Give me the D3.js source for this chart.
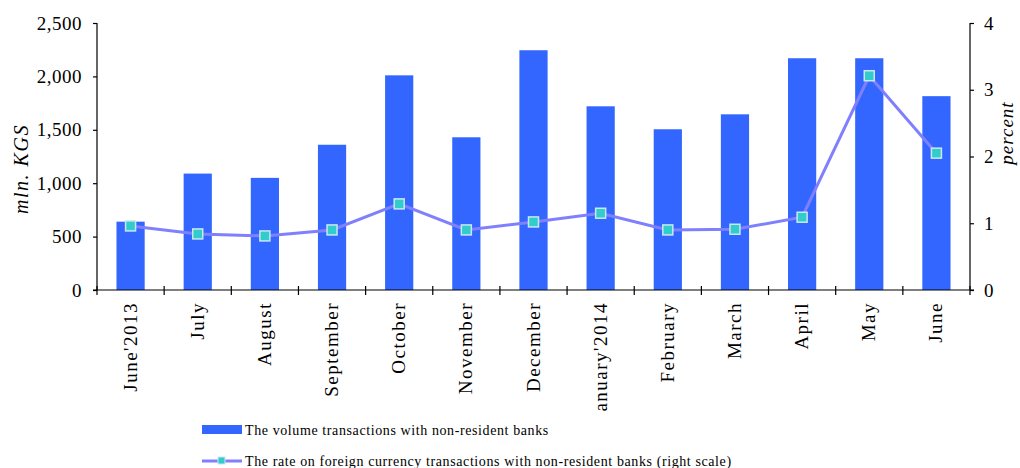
<!DOCTYPE html>
<html>
<head>
<meta charset="utf-8">
<script src="https://cdn.jsdelivr.net/npm/d3@7"></script>
<style>
  body { margin: 0; background: #fff; }
  svg { display: block; font-family: "Liberation Serif", "Times New Roman", serif; }
</style>
</head>
<body>
<div id="chart"></div>
<script>
// Months on the x axis
const months = ["June'2013", "July", "August", "September", "October", "November",
  "December", "January'2014", "February", "March", "April", "May", "June"];
// Volume of transactions with non-resident banks, mln. KGS
const volume = [640, 1090, 1050, 1360, 2010, 1430, 2245, 1720, 1505, 1645, 2170, 2170, 1815];
// Rate on foreign currency transactions, percent (right scale)
const rate = [0.96, 0.84, 0.81, 0.90, 1.29, 0.90, 1.02, 1.15, 0.90, 0.91, 1.09, 3.21, 2.05];
const leftTicks = [0, 500, 1000, 1500, 2000, 2500];
const rightTicks = [0, 1, 2, 3, 4];

const width = 1020, height = 468;
const margin = { left: 97, right: 50, top: 23, bottom: 178 };

const svg = d3.select("#chart").append("svg")
  .attr("width", width)
  .attr("height", height);

const x = d3.scaleBand()
  .domain(months)
  .range([margin.left, width - margin.right])
  .paddingInner(0.58)
  .paddingOuter(0.29);

const yLeft = d3.scaleLinear()
  .domain([0, 2500])
  .range([height - margin.bottom, margin.top]);

const yRight = d3.scaleLinear()
  .domain([0, 4])
  .range([height - margin.bottom, margin.top]);

// Bars
svg.selectAll(".bar")
  .data(volume)
  .enter()
  .append("rect")
  .attr("class", "bar")
  .attr("x", (d, i) => x(months[i]))
  .attr("width", x.bandwidth())
  .attr("y", d => yLeft(d))
  .attr("height", d => yLeft(0) - yLeft(d))
  .attr("fill", "#3366ff");

// Line for rate
const cx = i => x(months[i]) + x.bandwidth() / 2;
const line = d3.line()
  .x((d, i) => cx(i))
  .y(d => yRight(d));

svg.append("path")
  .datum(rate)
  .attr("d", line)
  .attr("fill", "none")
  .attr("stroke", "#8080ff")
  .attr("stroke-width", 3);

svg.selectAll(".marker")
  .data(rate)
  .enter()
  .append("rect")
  .attr("class", "marker")
  .attr("x", (d, i) => cx(i) - 5)
  .attr("y", d => yRight(d) - 5)
  .attr("width", 10)
  .attr("height", 10)
  .attr("fill", "#33cccc")
  .attr("stroke", "#c8e8f0")
  .attr("stroke-width", 1.5);

// Left axis
const leftAxis = svg.append("g")
  .attr("transform", `translate(${margin.left},0)`)
  .call(d3.axisLeft(yLeft).tickValues(leftTicks).tickFormat(d3.format(",")).tickSize(4).tickPadding(11));

// Right axis
const rightAxis = svg.append("g")
  .attr("transform", `translate(${width - margin.right},0)`)
  .call(d3.axisRight(yRight).tickValues(rightTicks).tickFormat(d3.format("d")).tickSize(4).tickPadding(10));

// Bottom axis: ticks on band boundaries, crossing the line
const bottom = svg.append("g");
bottom.append("line")
  .attr("x1", margin.left - 4).attr("x2", width - margin.right + 4)
  .attr("y1", yLeft(0)).attr("y2", yLeft(0))
  .attr("stroke", "#000").attr("stroke-width", 1.2);

const step = x.step();
const boundaries = d3.range(months.length + 1).map(i => x(months[0]) - x.paddingOuter() * step + i * step);
bottom.selectAll(".xtick")
  .data(boundaries)
  .enter()
  .append("line")
  .attr("x1", d => d).attr("x2", d => d)
  .attr("y1", yLeft(0) - 4).attr("y2", yLeft(0) + 5)
  .attr("stroke", "#000").attr("stroke-width", 1.2);

// Clip x labels like the original
svg.append("clipPath").attr("id", "labelClip")
  .append("rect").attr("x", 0).attr("y", 0).attr("width", width).attr("height", 412);

bottom.append("g").attr("clip-path", "url(#labelClip)")
  .selectAll(".xlabel")
  .data(months)
  .enter()
  .append("text")
  .attr("transform", d => `translate(${x(d) + x.bandwidth() / 2 + 6},${yLeft(0) + 12}) rotate(-90)`)
  .attr("text-anchor", "end")
  .attr("font-size", 19)
  .attr("letter-spacing", 1.5)
  .text(d => d);

[leftAxis, rightAxis].forEach(a => {
  a.selectAll("text").attr("font-size", 19).attr("letter-spacing", 0.5)
    .attr("font-family", "Liberation Serif").attr("fill", "#000");
  a.selectAll("line, path").attr("stroke", "#000").attr("stroke-width", 1.2);
});
leftAxis.select(".domain").attr("d", `M0,${yLeft(2500)}V${yLeft(0)}`);
rightAxis.select(".domain").attr("d", `M0,${yRight(4)}V${yRight(0)}`);

// Axis titles
svg.append("text")
  .attr("transform", "translate(28,169) rotate(-90)")
  .attr("text-anchor", "middle")
  .attr("font-size", 20)
  .attr("letter-spacing", 1.5)
  .attr("font-style", "italic")
  .text("mln. KGS");

svg.append("text")
  .attr("transform", "translate(1013,133) rotate(-90)")
  .attr("text-anchor", "middle")
  .attr("font-size", 19)
  .attr("letter-spacing", 1)
  .attr("font-style", "italic")
  .text("percent");

// Legend
const legend = svg.append("g");
legend.append("rect")
  .attr("x", 202).attr("y", 425).attr("width", 40).attr("height", 9)
  .attr("fill", "#3366ff");
legend.append("text")
  .attr("x", 245).attr("y", 435)
  .attr("font-size", 14)
  .attr("letter-spacing", 0.6)
  .text("The volume transactions with non-resident banks");

legend.append("line")
  .attr("x1", 202).attr("x2", 242).attr("y1", 461).attr("y2", 461)
  .attr("stroke", "#8080ff").attr("stroke-width", 3);
legend.append("rect")
  .attr("x", 218).attr("y", 457).attr("width", 7).attr("height", 7)
  .attr("fill", "#33cccc").attr("stroke", "#c8e8f0");
legend.append("text")
  .attr("x", 245).attr("y", 466)
  .attr("font-size", 14)
  .attr("letter-spacing", 0.6)
  .text("The rate on foreign currency transactions with non-resident banks (right scale)");
</script>
</body>
</html>
